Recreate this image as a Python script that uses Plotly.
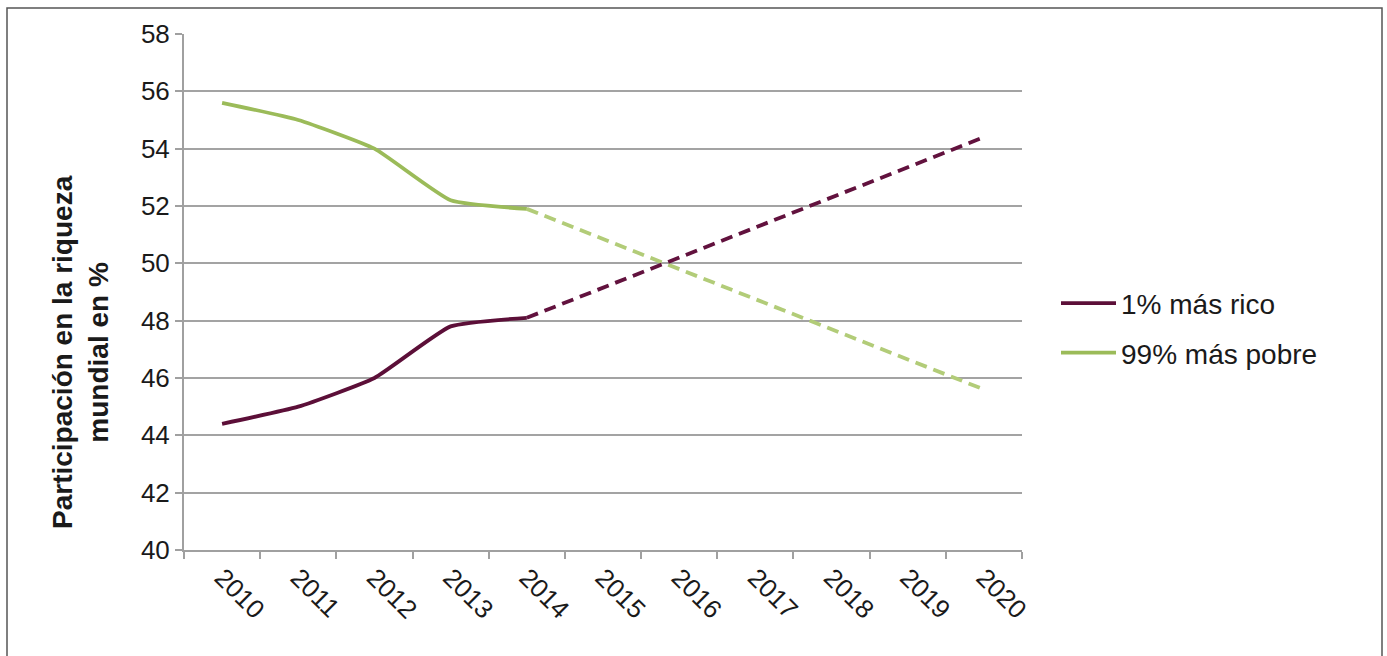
import plotly.graph_objects as go

# Years shown on the category axis
years = ["2010", "2011", "2012", "2013", "2014", "2015", "2016", "2017", "2018", "2019", "2020"]

# Observed shares of global wealth (%)
obs_years = ["2010", "2011", "2012", "2013", "2014"]
rich_obs = [44.4, 45.0, 46.0, 47.8, 48.1]
poor_obs = [55.6, 55.0, 54.0, 52.2, 51.9]

# Projection from the last observation to 2020
proj_years = ["2014", "2020"]
rich_proj = [48.1, 54.4]
poor_proj = [51.9, 45.6]

y_ticks = [40, 42, 44, 46, 48, 50, 52, 54, 56, 58]

RICH = "#5c0f38"
POOR = "#9bbb59"
RICH_DASH = "#62123e"
POOR_DASH = "#b2cc78"

fig = go.Figure()
fig.add_trace(go.Scatter(x=obs_years, y=rich_obs, name="1% más rico", mode="lines",
                         legendgroup="rich",
                         line=dict(color=RICH, width=3.8, shape="spline", smoothing=0.45)))
fig.add_trace(go.Scatter(x=obs_years, y=poor_obs, name="99% más pobre", mode="lines",
                         legendgroup="poor",
                         line=dict(color=POOR, width=3.8, shape="spline", smoothing=0.45)))
fig.add_trace(go.Scatter(x=proj_years, y=poor_proj, mode="lines", showlegend=False,
                         legendgroup="poor",
                         line=dict(color=POOR_DASH, width=3.8, dash="12px,7px")))
fig.add_trace(go.Scatter(x=proj_years, y=rich_proj, mode="lines", showlegend=False,
                         legendgroup="rich",
                         line=dict(color=RICH_DASH, width=3.8, dash="12px,7px")))

font = "Liberation Sans, Arial, sans-serif"
PL, PR, PT, PB = 184, 1022, 34, 550
W, H = PR - PL, PB - PT

fig.update_layout(
    width=1387, height=656,
    margin=dict(l=PL, r=1387 - PR, t=PT, b=656 - PB),
    paper_bgcolor="white", plot_bgcolor="white",
    font=dict(family=font, color="#1a1a1a"),
    showlegend=True,
    legend=dict(x=(1056 - PL) / W, y=(PB - 328) / H, xanchor="left", yanchor="middle",
                font=dict(size=28, family=font, color="#1a1a1a"),
                itemwidth=55, tracegroupgap=10, bgcolor="rgba(0,0,0,0)"),
    xaxis=dict(type="category", categoryorder="array", categoryarray=years,
               range=[-0.5, len(years) - 0.5],
               tickmode="array", tickvals=years, ticktext=years,
               tickangle=45, tickfont=dict(size=26, family=font, color="#1a1a1a"),
               showgrid=False, showline=True, linecolor="#a0a0a0", linewidth=2,
               ticks="outside", ticklen=7, tickcolor="#a0a0a0", tickwidth=1.5,
               tickson="boundaries", zeroline=False, fixedrange=True),
    yaxis=dict(range=[40, 58], tickmode="array", tickvals=y_ticks,
               tickfont=dict(size=26, family=font, color="#1a1a1a"),
               showgrid=True, gridcolor="#a3a3a3", gridwidth=1.8,
               showline=True, linecolor="#a0a0a0", linewidth=2,
               ticks="outside", ticklen=7, tickcolor="#a0a0a0", tickwidth=1.5,
               zeroline=False, fixedrange=True),
)

# Vertical axis title
fig.add_annotation(text="<b>Participación en la riqueza<br>mundial en %</b>",
                   xref="paper", yref="paper",
                   x=(80 - PL) / W, y=(PB - 352) / H,
                   xanchor="center", yanchor="middle", textangle=-90,
                   showarrow=False, align="center",
                   font=dict(size=28, family=font, color="#1a1a1a"))

# Outer frame around the figure
fig.add_shape(type="rect", xref="paper", yref="paper",
              x0=(7 - PL) / W, x1=(1382 - PL) / W,
              y0=-0.25, y1=1 + (PT - 8) / H,
              line=dict(color="#555555", width=1.5), layer="below")

fig.write_html("out.html")
